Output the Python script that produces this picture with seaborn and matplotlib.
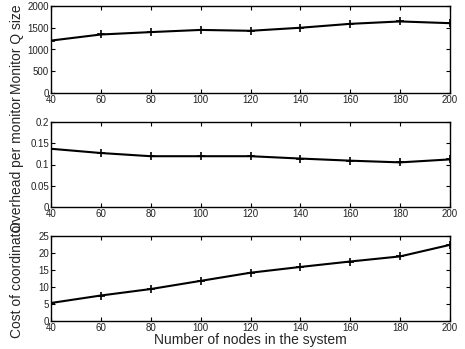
import seaborn as sns
import matplotlib.pyplot as plt
import pandas as pd

nodes = [40, 60, 80, 100, 120, 140, 160, 180, 200]
queue_size = [1205, 1345, 1400, 1450, 1430, 1500, 1590, 1645, 1605]
overhead = [0.137, 0.127, 0.1195, 0.1195, 0.1195, 0.114, 0.109, 0.105, 0.112]
coord_cost = [5.3, 7.5, 9.4, 11.8, 14.2, 15.9, 17.5, 19.0, 22.4]

ylabels = ["Monitor Q size", "Overhead per monitor", "Cost of coordinator"]
ylims = [(0, 2000), (0, 0.2), (0, 25)]
yticks = [[0, 500, 1000, 1500, 2000],
          [0, 0.05, 0.1, 0.15, 0.2],
          [0, 5, 10, 15, 20, 25]]
ytick_labels = [["0", "500", "1000", "1500", "2000"],
                ["0", "0.05", "0.1", "0.15", "0.2"],
                ["0", "5", "10", "15", "20", "25"]]

sns.set_style("ticks")
plt.rcParams["font.family"] = ["Liberation Sans", "DejaVu Sans"]

df = pd.DataFrame({"nodes": nodes, "queue": queue_size,
                   "overhead": overhead, "cost": coord_cost})

fig = plt.figure(figsize=(4.65, 3.49), dpi=100)
# axes extents in pixels (top, bottom)
bounds = [(6, 93), (122, 207), (236, 321)]
left, right = 51 / 465, 450 / 465

for i, col in enumerate(["queue", "overhead", "cost"]):
    top, bottom = bounds[i]
    ax = fig.add_axes([left, 1 - bottom / 349, right - left,
                       (bottom - top) / 349])
    sns.lineplot(data=df, x="nodes", y=col, ax=ax, color="black",
                 linewidth=1.5, marker="+", markersize=6,
                 markeredgewidth=1.2, markeredgecolor="black")
    ax.set_xlim(40, 200)
    ax.set_ylim(*ylims[i])
    ax.set_xticks(nodes)
    ax.set_yticks(yticks[i])
    ax.set_yticklabels(ytick_labels[i])
    ax.tick_params(direction="in", length=3, width=0.8, labelsize=7,
                   top=True, right=True, pad=1.5, colors="black",
                   labelcolor="#222222")
    for s in ax.spines.values():
        s.set_linewidth(1.0)
        s.set_color("black")
    ax.set_ylabel(ylabels[i], fontsize=10)
    ax.yaxis.set_label_coords(-0.068, 0.5)
    if i == 2:
        ax.set_xlabel("Number of nodes in the system", fontsize=10,
                      labelpad=0)
    else:
        ax.set_xlabel("")

plt.savefig("out.png", dpi=100)
